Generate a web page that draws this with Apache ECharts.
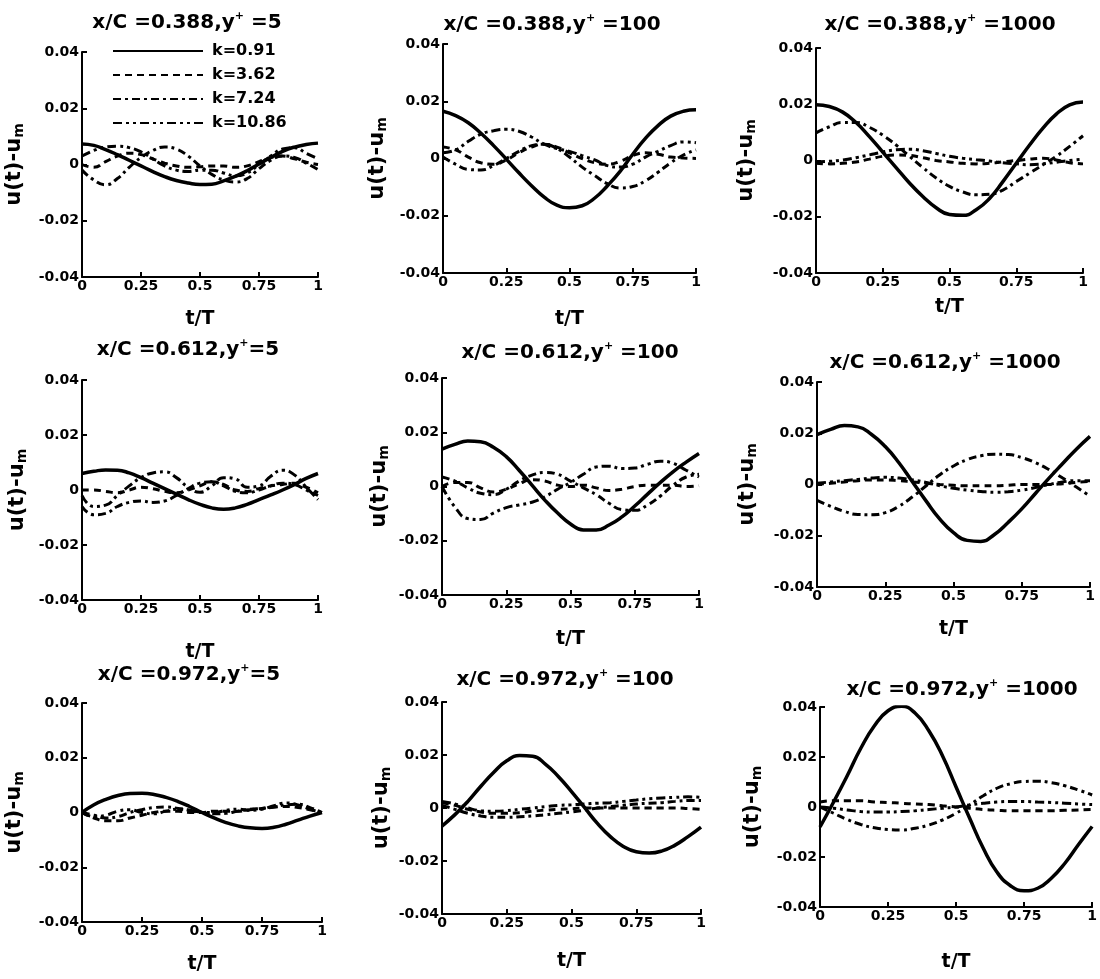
<!DOCTYPE html>
<html>
<head>
<meta charset="utf-8">
<script src="https://cdn.jsdelivr.net/npm/echarts@6/dist/echarts.min.js"></script>
<style>
  html, body { margin: 0; padding: 0; background: #fff; }
  #chart { width: 1100px; height: 979px; }
</style>
</head>
<body>
<div id="chart"></div>
<script>
// t/T sample points shared by every curve
const T = [0, 0.05, 0.1, 0.15, 0.2, 0.25, 0.3, 0.35, 0.4, 0.45, 0.5, 0.55, 0.6, 0.65, 0.7, 0.75, 0.8, 0.85, 0.9, 0.95, 1];

const seriesNames = ['k=0.91', 'k=3.62', 'k=7.24', 'k=10.86'];
const xTicks = [0, 0.25, 0.5, 0.75, 1];
const yTicks = [-0.04, -0.02, 0, 0.02, 0.04];

// x/C = 0.388, y+ = 5
const r1c1_k091 = [0.0073, 0.0068, 0.0053, 0.0035, 0.0015, -0.0005, -0.0025, -0.0043, -0.0057, -0.0066, -0.0071, -0.007, -0.0058, -0.0042, -0.0022, 0.0002, 0.0025, 0.0047, 0.0062, 0.0071, 0.0076];
const r1c1_k362 = [0.0, -0.001, 0.001, 0.003, 0.004, 0.0035, 0.002, 0.0005, -0.0005, -0.001, -0.0008, -0.0005, -0.0005, -0.001, -0.0005, 0.001, 0.0025, 0.003, 0.002, 0.0008, 0.0];
const r1c1_k724 = [-0.002, -0.0055, -0.0072, -0.005, -0.001, 0.0025, 0.005, 0.0062, 0.0055, 0.003, -0.0005, -0.0035, -0.0055, -0.0062, -0.005, -0.0015, 0.0015, 0.003, 0.0025, 0.0005, -0.0018];
const r1c1_k1086 = [0.003, 0.005, 0.0062, 0.0065, 0.006, 0.0045, 0.002, -0.0005, -0.002, -0.0025, -0.002, -0.002, -0.003, -0.004, -0.003, 0.0, 0.003, 0.0055, 0.006, 0.004, 0.002];

// x/C = 0.388, y+ = 100
const r1c2_k091 = [0.0165, 0.015, 0.0125, 0.0088, 0.0045, -0.0002, -0.005, -0.0095, -0.0135, -0.0163, -0.0172, -0.0165, -0.0138, -0.0095, -0.0045, 0.0015, 0.007, 0.0115, 0.0148, 0.0165, 0.017];
const r1c2_k362 = [0.004, 0.003, 0.0005, -0.0015, -0.002, -0.0005, 0.002, 0.004, 0.005, 0.004, 0.002, 0.0, -0.0015, -0.002, -0.001, 0.001, 0.002, 0.0015, 0.0005, 0.0002, 0.0];
const r1c2_k724 = [0.0005, -0.002, -0.0038, -0.004, -0.0025, 0.0, 0.0025, 0.0045, 0.005, 0.0035, 0.0005, -0.003, -0.006, -0.0088, -0.0103, -0.0098, -0.0078, -0.0048, -0.0015, 0.0012, 0.003];
const r1c2_k1086 = [0.002, 0.003, 0.006, 0.0085, 0.0097, 0.0102, 0.0095, 0.0075, 0.005, 0.0035, 0.0025, 0.001, -0.0005, -0.0025, -0.003, -0.002, 0.0005, 0.0025, 0.0045, 0.0058, 0.0055];

// x/C = 0.388, y+ = 1000
const r1c3_k091 = [0.0198, 0.0192, 0.0172, 0.0135, 0.0085, 0.003, -0.0025, -0.008, -0.0128, -0.0168, -0.0192, -0.0195, -0.0175, -0.0135, -0.0075, -0.001, 0.0055, 0.0115, 0.0165, 0.0198, 0.0208];
const r1c3_k362 = [-0.001, -0.0012, -0.001, -0.0005, 0.0005, 0.0015, 0.002, 0.0018, 0.001, 0.0, -0.0005, -0.001, -0.0012, -0.001, -0.0005, 0.0, 0.0005, 0.0008, 0.0002, -0.0008, -0.0012];
const r1c3_k724 = [0.0098, 0.012, 0.0135, 0.0135, 0.0118, 0.009, 0.0055, 0.0015, -0.0025, -0.0062, -0.0092, -0.0112, -0.0122, -0.012, -0.0105, -0.0075, -0.0045, -0.0015, 0.0015, 0.005, 0.0088];
const r1c3_k1086 = [-0.0005, -0.0003, 0.0002, 0.001, 0.002, 0.003, 0.0038, 0.004, 0.0035, 0.0025, 0.0015, 0.0008, 0.0003, -0.0002, -0.0008, -0.0012, -0.0015, -0.0012, -0.0006, 0.0, 0.0004];

// x/C = 0.612, y+ = 5
const r2c1_k091 = [0.006, 0.0068, 0.0073, 0.0072, 0.0062, 0.0045, 0.0025, 0.0005, -0.0015, -0.0035, -0.0052, -0.0065, -0.007, -0.0065, -0.0052, -0.0035, -0.0018, 0.0, 0.002, 0.0042, 0.006];
const r2c1_k362 = [0.0, 0.0, -0.0005, -0.001, 0.0, 0.001, 0.0005, -0.0005, -0.001, 0.0, 0.0015, 0.003, 0.002, 0.0, -0.0005, 0.0005, 0.0015, 0.002, 0.0025, 0.001, -0.001];
const r2c1_k724 = [-0.006, -0.009, -0.0085, -0.006, -0.0045, -0.004, -0.0045, -0.004, -0.002, 0.0005, 0.0025, 0.003, 0.0015, -0.0005, -0.001, 0.0, 0.0015, 0.0025, 0.002, 0.0, -0.002];
const r2c1_k1086 = [-0.002, -0.006, -0.0055, -0.002, 0.0015, 0.0045, 0.0062, 0.0066, 0.0045, 0.001, -0.0008, 0.0015, 0.0045, 0.004, 0.001, 0.0015, 0.005, 0.0072, 0.0055, 0.001, -0.0035];

// x/C = 0.612, y+ = 100
const r2c2_k091 = [0.0138, 0.0155, 0.0168, 0.0165, 0.0145, 0.011, 0.006, 0.0005, -0.005, -0.0098, -0.0138, -0.016, -0.016, -0.0142, -0.0112, -0.0072, -0.0028, 0.0015, 0.0055, 0.009, 0.0122];
const r2c2_k362 = [0.0, 0.0015, 0.0015, -0.0005, -0.002, -0.001, 0.001, 0.0025, 0.002, 0.0005, 0.0, 0.0005, -0.0005, -0.0015, -0.001, 0.0, 0.0005, 0.0005, 0.0005, 0.0, 0.0003];
const r2c2_k724 = [0.0035, 0.002, -0.0005, -0.0025, -0.003, -0.001, 0.002, 0.0042, 0.0052, 0.0045, 0.002, -0.0005, -0.003, -0.0062, -0.0085, -0.0088, -0.0068, -0.0035, 0.0005, 0.0035, 0.0045];
const r2c2_k1086 = [0.0, -0.0075, -0.0118, -0.0122, -0.0098, -0.0078, -0.0068, -0.0058, -0.0038, -0.001, 0.0015, 0.0045, 0.0072, 0.0075, 0.0066, 0.0068, 0.0082, 0.0093, 0.0085, 0.006, 0.0035];

// x/C = 0.612, y+ = 1000
const r2c3_k091 = [0.0195, 0.0215, 0.023, 0.0225, 0.0195, 0.0148, 0.0085, 0.001, -0.0065, -0.0135, -0.0188, -0.0218, -0.0222, -0.0195, -0.0148, -0.0095, -0.0035, 0.0025, 0.0082, 0.0138, 0.0188];
const r2c3_k362 = [0.0, 0.0005, 0.001, 0.0015, 0.0018, 0.0018, 0.0015, 0.001, 0.0005, 0.0, -0.0003, -0.0005, -0.0005, -0.0005, -0.0003, 0.0, 0.0, 0.0, 0.0003, 0.0008, 0.0012];
const r2c3_k724 = [-0.0062, -0.0085, -0.0105, -0.0117, -0.0118, -0.011, -0.0085, -0.0048, -0.0005, 0.0038, 0.0072, 0.0097, 0.0112, 0.0118, 0.0117, 0.0105, 0.0085, 0.0058, 0.0025, -0.001, -0.0045];
const r2c3_k1086 = [0.0005, 0.001, 0.0015, 0.002, 0.0025, 0.0028, 0.0025, 0.0018, 0.0008, -0.0005, -0.0015, -0.0022, -0.0027, -0.003, -0.0028, -0.0022, -0.0012, 0.0, 0.001, 0.0015, 0.0015];

// x/C = 0.972, y+ = 5
const r3c1_k091 = [0.0, 0.0028, 0.0048, 0.0062, 0.0069, 0.007, 0.0066, 0.0055, 0.004, 0.0021, 0.0, -0.002, -0.0037, -0.0049, -0.0056, -0.0058, -0.0054, -0.0043, -0.0028, -0.0013, 0.0];
const r3c1_k362 = [0.0, -0.002, -0.003, -0.003, -0.002, -0.001, 0.0, 0.0005, 0.0005, 0.0, 0.0, 0.0005, 0.0005, 0.0005, 0.001, 0.0015, 0.002, 0.0022, 0.0018, 0.001, 0.0];
const r3c1_k724 = [0.0, -0.001, -0.002, -0.0015, 0.0, 0.001, 0.0018, 0.002, 0.0015, 0.0008, 0.0, -0.0005, -0.0003, 0.0005, 0.0012, 0.0015, 0.002, 0.0028, 0.003, 0.0018, 0.0];
const r3c1_k1086 = [0.0, -0.0015, -0.001, 0.0005, 0.001, 0.0, -0.0005, 0.0005, 0.0012, 0.0008, 0.0, 0.0, 0.0008, 0.0012, 0.0008, 0.0012, 0.0025, 0.0035, 0.0028, 0.0012, 0.0];

// x/C = 0.972, y+ = 100
const r3c2_k091 = [-0.0068, -0.0025, 0.0025, 0.0082, 0.0135, 0.0178, 0.0198, 0.0195, 0.0165, 0.0118, 0.0062, 0.0002, -0.0058, -0.0108, -0.0145, -0.0165, -0.017, -0.0162, -0.014, -0.0108, -0.0072];
const r3c2_k362 = [0.002, 0.001, -0.0005, -0.0015, -0.002, -0.002, -0.0018, -0.0012, -0.0008, -0.0005, -0.0003, 0.0, 0.0, 0.0, 0.0, 0.0, 0.0, 0.0, 0.0, -0.0002, -0.0005];
const r3c2_k724 = [0.001, -0.0005, -0.002, -0.003, -0.0035, -0.0035, -0.0033, -0.003, -0.0025, -0.002, -0.0015, -0.0008, 0.0, 0.0005, 0.001, 0.0015, 0.0018, 0.002, 0.0025, 0.0028, 0.0028];
const r3c2_k1086 = [0.0025, 0.0015, 0.0, -0.001, -0.0012, -0.001, -0.0005, 0.0, 0.0005, 0.001, 0.0012, 0.0015, 0.0018, 0.002, 0.0025, 0.003, 0.0035, 0.0038, 0.004, 0.0042, 0.004];

// x/C = 0.972, y+ = 1000
const r3c3_k091 = [-0.008, 0.002, 0.0125, 0.0235, 0.0325, 0.0385, 0.0403, 0.0375, 0.0305, 0.0205, 0.008, -0.0045, -0.0165, -0.026, -0.0315, -0.0335, -0.0325, -0.0285, -0.0225, -0.015, -0.0078];
const r3c3_k362 = [0.002, 0.0025, 0.0025, 0.0025, 0.002, 0.0018, 0.0015, 0.0012, 0.001, 0.0005, 0.0, -0.0005, -0.001, -0.0013, -0.0015, -0.0015, -0.0015, -0.0015, -0.0013, -0.0012, -0.001];
const r3c3_k724 = [0.0, -0.0025, -0.005, -0.007, -0.0083, -0.009, -0.0092, -0.0085, -0.0072, -0.0052, -0.0025, 0.0008, 0.0045, 0.0075, 0.0093, 0.0102, 0.0103, 0.0097, 0.0085, 0.0068, 0.0048];
const r3c3_k1086 = [0.0, -0.0005, -0.0012, -0.0018, -0.002, -0.002, -0.0018, -0.0015, -0.001, -0.0005, 0.0, 0.0008, 0.0015, 0.002, 0.0022, 0.0022, 0.002, 0.0018, 0.0015, 0.0012, 0.001];

const panelTitles = [
  'x/C =0.388,y{sup|+} =5', 'x/C =0.388,y{sup|+} =100', 'x/C =0.388,y{sup|+} =1000',
  'x/C =0.612,y{sup|+}=5', 'x/C =0.612,y{sup|+} =100', 'x/C =0.612,y{sup|+} =1000',
  'x/C =0.972,y{sup|+}=5', 'x/C =0.972,y{sup|+} =100', 'x/C =0.972,y{sup|+} =1000'
];

const panelData = [
  [r1c1_k091, r1c1_k362, r1c1_k724, r1c1_k1086],
  [r1c2_k091, r1c2_k362, r1c2_k724, r1c2_k1086],
  [r1c3_k091, r1c3_k362, r1c3_k724, r1c3_k1086],
  [r2c1_k091, r2c1_k362, r2c1_k724, r2c1_k1086],
  [r2c2_k091, r2c2_k362, r2c2_k724, r2c2_k1086],
  [r2c3_k091, r2c3_k362, r2c3_k724, r2c3_k1086],
  [r3c1_k091, r3c1_k362, r3c1_k724, r3c1_k1086],
  [r3c2_k091, r3c2_k362, r3c2_k724, r3c2_k1086],
  [r3c3_k091, r3c3_k362, r3c3_k724, r3c3_k1086]
];

// plot boxes, title centres and name gaps
const layout = [
  { left: 82, top: 52, width: 236, height: 225, tx: 187, ty: 23, xGap: 33, yGap: 56 },
  { left: 443, top: 44, width: 253, height: 229, tx: 552, ty: 25, xGap: 37, yGap: 54 },
  { left: 816, top: 48, width: 267, height: 225, tx: 940, ty: 25, xGap: 25, yGap: 58 },
  { left: 82, top: 380, width: 236, height: 220, tx: 188, ty: 350, xGap: 43, yGap: 53 },
  { left: 442, top: 378, width: 257, height: 217, tx: 570, ty: 353, xGap: 35, yGap: 51 },
  { left: 817, top: 382, width: 273, height: 205, tx: 945, ty: 363, xGap: 33, yGap: 58 },
  { left: 82, top: 703, width: 240, height: 219, tx: 189, ty: 675, xGap: 33, yGap: 56 },
  { left: 442, top: 702, width: 259, height: 212, tx: 565, ty: 680, xGap: 38, yGap: 49 },
  { left: 820, top: 707, width: 273, height: 200, tx: 962, ty: 690, xGap: 46, yGap: 56 }
];

const FONT = 'DejaVu Sans';
const lineTypes = ['solid', [7, 5], [8, 4, 3, 4], [9, 4, 3, 4, 3, 4]];
const lineWidths = [3.5, 3, 3, 3];

const chart = echarts.init(document.getElementById('chart'));

const grids = [], xAxes = [], yAxes = [], titles = [], series = [];
layout.forEach((p, i) => {
  grids.push({ left: p.left, top: p.top, width: p.width, height: p.height });
  titles.push({
    text: panelTitles[i],
    left: p.tx, top: p.ty, padding: 0,
    textAlign: 'center', textVerticalAlign: 'middle',
    textStyle: {
      fontFamily: FONT, fontWeight: 'bold', fontSize: 20, color: '#000', lineHeight: 24,
      rich: { sup: { fontFamily: FONT, fontWeight: 'bold', fontSize: 11, verticalAlign: 'top', lineHeight: 12 } }
    }
  });
  xAxes.push({
    type: 'value', gridIndex: i, min: xTicks[0], max: xTicks[xTicks.length - 1], interval: 0.25,
    name: 't/T', nameLocation: 'middle', nameGap: p.xGap,
    nameTextStyle: { fontFamily: FONT, fontWeight: 'bold', fontSize: 19, color: '#000' },
    axisLine: { onZero: false, lineStyle: { color: '#000', width: 2 } },
    axisTick: { inside: true, length: 5, lineStyle: { color: '#000', width: 2 } },
    axisLabel: { margin: 2, fontFamily: FONT, fontWeight: 'bold', fontSize: 14, color: '#000' },
    splitLine: { show: false }
  });
  yAxes.push({
    type: 'value', gridIndex: i, min: yTicks[0], max: yTicks[yTicks.length - 1], interval: 0.02,
    name: 'u(t)-u{sub|m}', nameLocation: 'middle', nameRotate: 90, nameGap: p.yGap,
    nameTextStyle: {
      fontFamily: FONT, fontWeight: 'bold', fontSize: 21, color: '#000',
      rich: { sub: { fontFamily: FONT, fontWeight: 'bold', fontSize: 14, verticalAlign: 'bottom', padding: [8, 0, 0, 0] } }
    },
    axisLine: { show: true, onZero: false, lineStyle: { color: '#000', width: 2 } },
    axisTick: { show: true, inside: true, length: 5, lineStyle: { color: '#000', width: 2 } },
    axisLabel: { margin: 3, fontFamily: FONT, fontWeight: 'bold', fontSize: 14, color: '#000' },
    splitLine: { show: false }
  });
  panelData[i].forEach((vals, k) => {
    series.push({
      name: seriesNames[k], type: 'line', xAxisIndex: i, yAxisIndex: i,
      data: T.map((t, j) => [t, vals[j]]),
      smooth: true, symbol: 'none', silent: true,
      lineStyle: { color: '#000', width: lineWidths[k], type: lineTypes[k] },
      itemStyle: { color: '#000' },
      z: 10 - k
    });
  });
});

chart.setOption({
  animation: false,
  backgroundColor: '#fff',
  title: titles,
  legend: {
    data: seriesNames, orient: 'vertical', left: 112, top: 43,
    itemWidth: 90, itemHeight: 14, itemGap: 8, padding: 0,
    itemStyle: { opacity: 0 },
    textStyle: { fontFamily: FONT, fontWeight: 'bold', fontSize: 16, color: '#000', padding: [0, 0, 0, 4] }
  },
  grid: grids,
  xAxis: xAxes,
  yAxis: yAxes,
  series: series
});
</script>
</body>
</html>
